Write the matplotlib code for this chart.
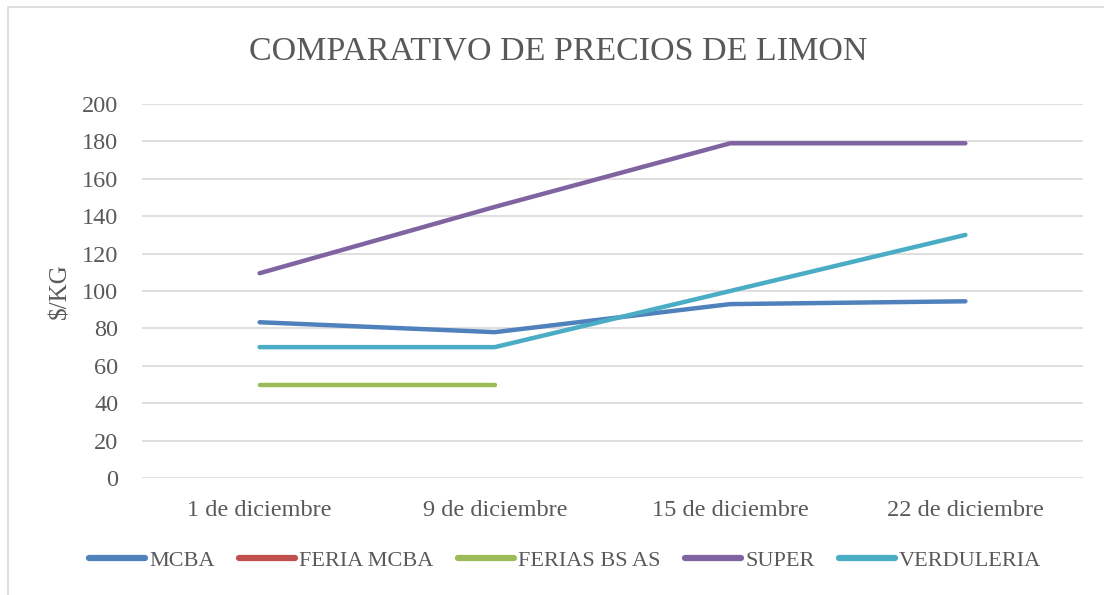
import numpy as np
import matplotlib.pyplot as plt
from matplotlib.patches import Rectangle

fechas = ['1 de diciembre', '9 de diciembre', '15 de diciembre', '22 de diciembre']
mcba = [83.3, 78, 93, 94.5]
feria_mcba = [np.nan, np.nan, np.nan, np.nan]
ferias_bs_as = [50, 50, np.nan, np.nan]
super_ = [109.5, 145, 179, 179]
verduleria = [70, 70, 100, 130]

series = [
    ('MCBA', mcba, '#4F81BD'),
    ('FERIA MCBA', feria_mcba, '#C0504D'),
    ('FERIAS BS AS', ferias_bs_as, '#9BBB59'),
    ('SUPER', super_, '#8064A2'),
    ('VERDULERIA', verduleria, '#4BACC6'),
]

txt = '#595959'
plt.rcParams['font.family'] = ['Liberation Serif', 'DejaVu Serif']

fig = plt.figure(figsize=(11.04, 5.95), dpi=100)
ax = fig.add_axes([0.1286, 0.1966, 0.8524, 0.6286])

x = np.arange(len(fechas))
for name, vals, color in series:
    ax.plot(x, vals, color=color, linewidth=3.2, solid_capstyle='round',
            solid_joinstyle='round', label=name)

ax.set_xlim(-0.5, len(fechas) - 0.5)
ax.set_ylim(0, 200)
ax.set_yticks(range(0, 201, 20))
ax.set_xticks(x)
ax.set_xticklabels(fechas)
ax.tick_params(axis='both', length=0, labelsize=17.5, labelcolor=txt)
ax.tick_params(axis='x', pad=16)
ax.tick_params(axis='y', pad=17)
ax.grid(axis='y', color='#D9D9D9', linewidth=1.2)
ax.set_axisbelow(True)
for s in ax.spines.values():
    s.set_visible(False)

ax.set_ylabel('$/KG', fontsize=18, color=txt, labelpad=8)

fig.text(0.506, 0.914, 'COMPARATIVO DE PRECIOS DE LIMON', fontsize=24.5,
         color=txt, ha='center', va='center')

leg = fig.legend(loc='center', bbox_to_anchor=(0.512, 0.058), ncol=5,
                 frameon=False, fontsize=16, handlelength=2.5,
                 handletextpad=0.2, columnspacing=1.1, labelcolor=txt)
for h in leg.get_lines():
    h.set_linewidth(4.5)

fig.patches.append(Rectangle((8 / 1104, -0.1), 1.2, 1.1 - 7 / 595,
                             transform=fig.transFigure, fill=False,
                             edgecolor='#D9D9D9', linewidth=1.2))

fig.savefig('out.png', dpi=100)
